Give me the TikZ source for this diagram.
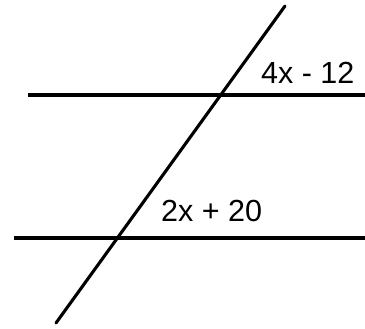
\documentclass[tikz,border=0pt]{standalone}
\usepackage{fontspec}
\setmainfont{Liberation Sans}
\usepackage{tikz}
\usetikzlibrary{positioning}
\tikzset{
  strek/.style={line width=3.1pt,black},
  hoek/.style={anchor=base west,inner sep=0pt,font=\fontsize{30.5}{32}\selectfont}
}

\begin{document}
\begin{tikzpicture}[x=1pt,y=-1pt]
  \useasboundingbox (0,0) rectangle (365,329);

  % parallel lines
  \coordinate (bovenL) at (28,95);
  \coordinate (bovenR) at (365,95);
  \coordinate (onderL) at (14,238);
  \coordinate (onderR) at (365,238);
  \draw[strek] (bovenL) -- (bovenR);
  \draw[strek] (onderL) -- (onderR);

  % transversal
  \coordinate (snijA) at (56,323);
  \coordinate (snijB) at (285,6);
  \draw[strek,line cap=round] (snijA) -- (snijB);

  % angles
  \node[hoek] (hoekboven) at (261,84) {4x - 12};
  \node[hoek] (hoekonder) at (161,222) {2x + 20};
\end{tikzpicture}
\end{document}
